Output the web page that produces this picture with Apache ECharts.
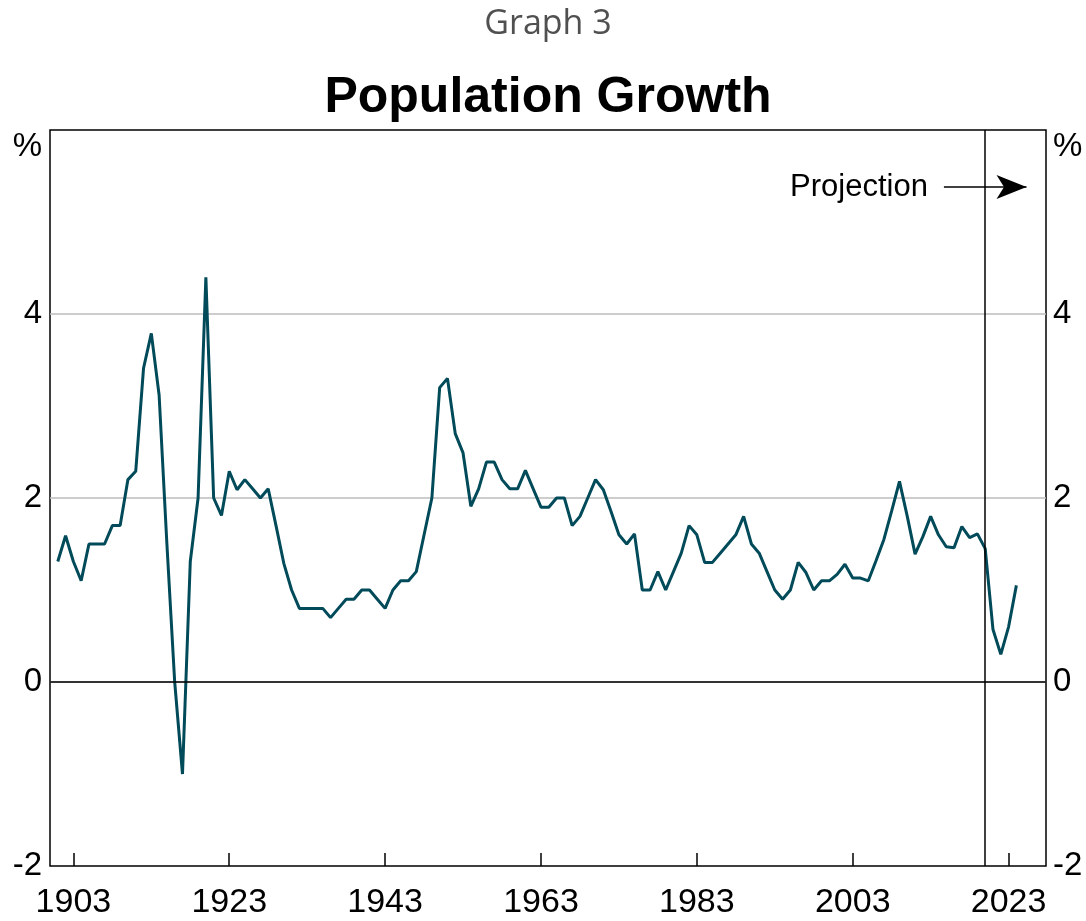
<!DOCTYPE html>
<html>
<head>
<meta charset="utf-8">
<title>Population Growth</title>
<script src="https://cdn.jsdelivr.net/npm/echarts@6/dist/echarts.min.js"></script>
<style>
  html, body { margin: 0; padding: 0; background: #fff; }
  #chart { width: 1086px; height: 921px; }
</style>
</head>
<body>
<div id="chart"></div>
<script>
var firstYear = 1901;
// annual population growth, %
var growth = [
  1.31, 1.59, 1.31, 1.10, 1.50, 1.50, 1.50, 1.70, 1.70, 2.20,
  2.29, 3.41, 3.79, 3.12, 1.50, 0.00, -1.00, 1.31, 2.00, 4.40,
  2.00, 1.81, 2.29, 2.09, 2.20, 2.10, 2.00, 2.10, 1.70, 1.29,
  1.00, 0.80, 0.80, 0.80, 0.80, 0.70, 0.80, 0.90, 0.90, 1.00,
  1.00, 0.90, 0.80, 1.00, 1.10, 1.10, 1.20, 1.60, 2.00, 3.20,
  3.30, 2.70, 2.49, 1.91, 2.10, 2.39, 2.39, 2.20, 2.10, 2.10,
  2.30, 2.10, 1.90, 1.90, 2.00, 2.00, 1.70, 1.80, 2.00, 2.20,
  2.09, 1.85, 1.60, 1.50, 1.61, 1.00, 1.00, 1.20, 1.00, 1.20,
  1.40, 1.70, 1.60, 1.30, 1.30, 1.40, 1.50, 1.60, 1.80, 1.50,
  1.40, 1.20, 1.00, 0.90, 1.00, 1.30, 1.19, 1.00, 1.10, 1.10,
  1.17, 1.28, 1.13, 1.13, 1.10, 1.32, 1.55, 1.86, 2.18, 1.80,
  1.39, 1.58, 1.80, 1.60, 1.47, 1.46, 1.69, 1.57, 1.61, 1.45,
  0.57, 0.30, 0.60, 1.05
];
var xTicks = [1903, 1923, 1943, 1963, 1983, 2003, 2023];
var projectionStart = 2020;

var seriesData = [];
for (var i = 0; i < growth.length; i++) {
  seriesData.push([firstYear + i, growth[i]]);
}

var font = "'Liberation Sans', Arial, sans-serif";
var myChart = echarts.init(document.getElementById('chart'));

function yLabel(v) {
  if (v === 6) return '{p|%}';
  return String(v);
}

var option = {
  animation: false,
  title: [
    {
      text: 'Graph 3',
      left: 548,
      top: 7,
      padding: 0,
      textAlign: 'center',
      textStyle: { fontFamily: "'Open Sans', sans-serif", fontSize: 34, fontWeight: 'normal', color: '#505050' }
    },
    {
      text: 'Population Growth',
      left: 548,
      top: 73,
      padding: 0,
      textAlign: 'center',
      textStyle: { fontFamily: font, fontSize: 50, fontWeight: 'bold', color: '#000' }
    }
  ],
  grid: {
    left: 50, right: 40, top: 130, bottom: 55,
    show: true,
    borderColor: '#000',
    borderWidth: 1.5,
    backgroundColor: 'transparent'
  },
  xAxis: {
    type: 'value',
    min: 1900,
    max: 2027.8,
    axisLine: { show: false, onZero: false },
    splitLine: { show: false },
    axisTick: {
      show: true,
      inside: true,
      length: 13,
      customValues: xTicks,
      lineStyle: { color: '#000', width: 1.5 }
    },
    axisLabel: {
      customValues: xTicks,
      margin: 20,
      fontFamily: font,
      fontSize: 34,
      color: '#000',
      formatter: function (v) { return String(v); }
    }
  },
  yAxis: [
    {
      type: 'value',
      position: 'left',
      min: -2, max: 6, interval: 2,
      axisLine: { show: false },
      axisTick: { show: false },
      splitLine: { show: true, showMinLine: false, showMaxLine: false, lineStyle: { color: '#bdbdbd', width: 1.5 } },
      axisLabel: {
        margin: 8,
        fontFamily: font,
        fontSize: 33,
        color: '#000',
        formatter: yLabel,
        rich: { p: { fontFamily: font, fontSize: 33, color: '#000', padding: [34, 0, 0, 0] } }
      }
    },
    {
      type: 'value',
      position: 'right',
      min: -2, max: 6, interval: 2,
      axisLine: { show: false },
      axisTick: { show: false },
      splitLine: { show: false },
      axisLabel: {
        margin: 7,
        fontFamily: font,
        fontSize: 33,
        color: '#000',
        formatter: yLabel,
        rich: { p: { fontFamily: font, fontSize: 33, color: '#000', padding: [34, 0, 0, 0] } }
      }
    }
  ],
  series: [
    {
      name: 'Population growth',
      type: 'line',
      data: seriesData,
      showSymbol: false,
      lineStyle: { color: '#004a59', width: 3 },
      z: 3,
      markLine: {
        silent: true,
        symbol: 'none',
        label: { show: false },
        lineStyle: { color: '#000', width: 1.5, type: 'solid' },
        data: [
          { yAxis: 0 },
          { xAxis: projectionStart },
          [
            {
              coord: [2014.7, 5.38],
              symbol: 'none',
              label: {
                show: true,
                position: 'start',
                distance: 16,
                formatter: 'Projection',
                fontFamily: font,
                fontSize: 31,
                color: '#000'
              }
            },
            { coord: [2025.3, 5.38], symbol: 'arrow', symbolSize: [18, 30] }
          ]
        ]
      }
    }
  ]
};

myChart.setOption(option);
</script>
</body>
</html>
